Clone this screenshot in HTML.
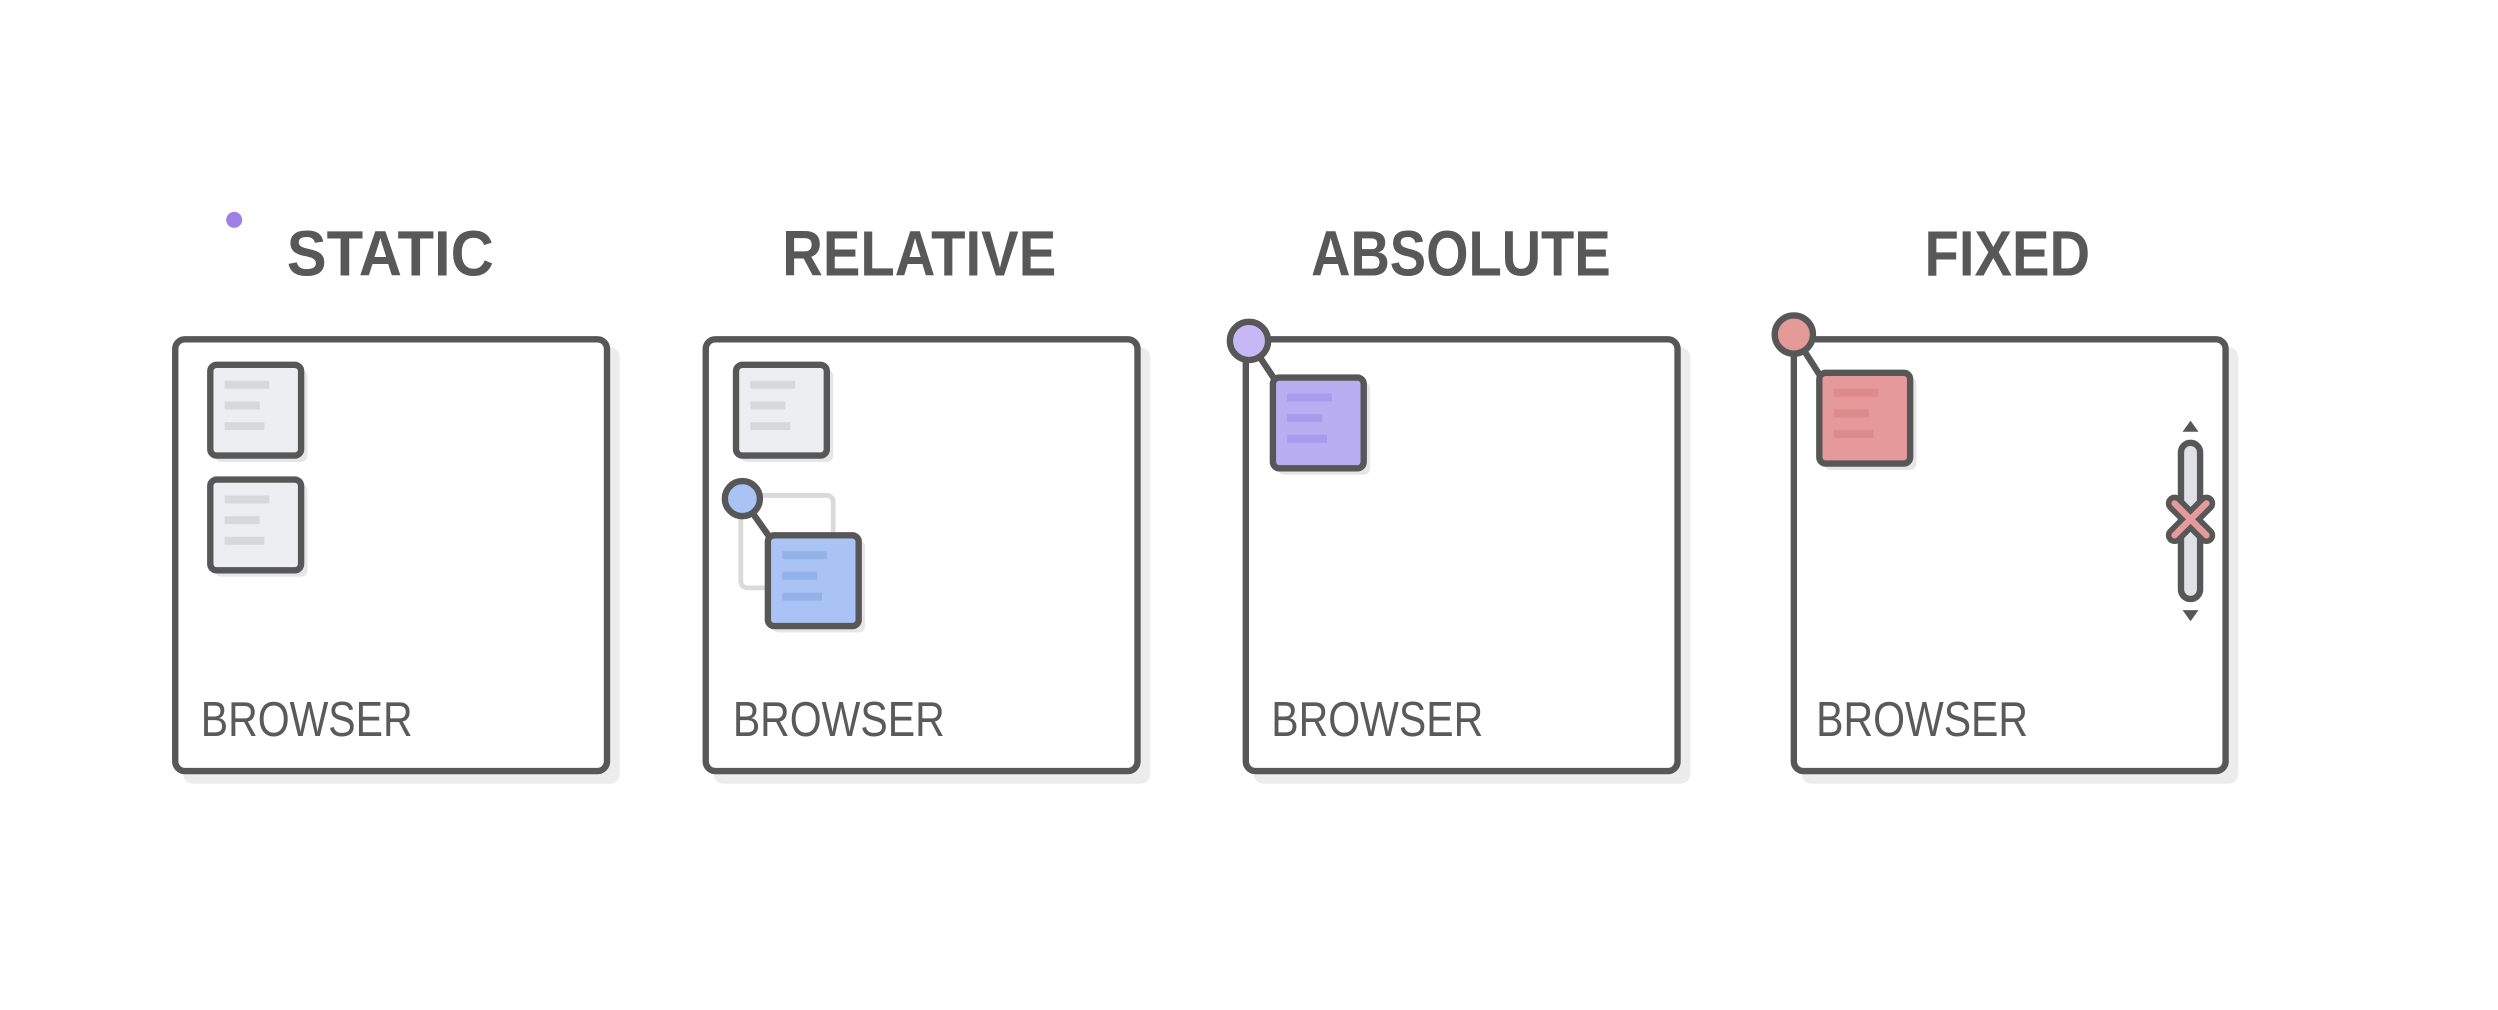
<!DOCTYPE html>
<html><head><meta charset="utf-8"><style>
html,body{margin:0;padding:0;background:#fff;}
svg{display:block;}
</style></head><body>
<svg width="2498" height="1010" viewBox="0 0 1568 634" preserveAspectRatio="none" xmlns="http://www.w3.org/2000/svg">
<defs>
<g id="lines"><rect x="9" y="10" width="28" height="5" fill="#d7d8db"/><rect x="9" y="23" width="22" height="5" fill="#d7d8db"/><rect x="9" y="36" width="25" height="5" fill="#d7d8db"/></g>
</defs>
<rect width="1568" height="634" fill="#fff"/>
<circle cx="147" cy="138" r="5" fill="#9d7fe6"/>
<g font-family="Liberation Sans, sans-serif" font-weight="bold" font-size="40" fill="#585858" text-anchor="middle">
<text x="245" y="173" textLength="130" lengthAdjust="spacingAndGlyphs">STATIC</text>
<text x="577" y="173" textLength="172" lengthAdjust="spacingAndGlyphs">RELATIVE</text>
<text x="917" y="173" textLength="188" lengthAdjust="spacingAndGlyphs">ABSOLUTE</text>
<text x="1260" y="173" textLength="104" lengthAdjust="spacingAndGlyphs">FIXED</text>
</g>
<!-- boxes -->
<g fill="#fff" stroke="#575757" stroke-width="4">
<rect x="115" y="218" width="274" height="274" rx="6" fill="#ececec" stroke="none"/>
<rect x="448" y="218" width="274" height="274" rx="6" fill="#ececec" stroke="none"/>
<rect x="787" y="218" width="274" height="274" rx="6" fill="#ececec" stroke="none"/>
<rect x="1131" y="218" width="274" height="274" rx="6" fill="#ececec" stroke="none"/>
<rect x="110" y="213" width="271" height="271" rx="6"/>
<rect x="443" y="213" width="271" height="271" rx="6"/>
<rect x="782" y="213" width="271" height="271" rx="6"/>
<rect x="1126" y="213" width="271" height="271" rx="6"/>
</g>
<g font-family="Liberation Sans, sans-serif" font-size="31" fill="#5a5a5a">
<text x="126" y="462" textLength="133" lengthAdjust="spacingAndGlyphs">BROWSER</text>
<text x="460" y="462" textLength="133" lengthAdjust="spacingAndGlyphs">BROWSER</text>
<text x="798" y="462" textLength="133" lengthAdjust="spacingAndGlyphs">BROWSER</text>
<text x="1140" y="462" textLength="133" lengthAdjust="spacingAndGlyphs">BROWSER</text>
</g>
<!-- static squares -->
<g stroke="#575757" stroke-width="4">
<rect x="135" y="232" width="58" height="58" rx="4" fill="#e6e6e6" stroke="none"/>
<rect x="132" y="229" width="57" height="57" rx="4" fill="#eceef1"/>
<rect x="135" y="304" width="58" height="58" rx="4" fill="#e6e6e6" stroke="none"/>
<rect x="132" y="301" width="57" height="57" rx="4" fill="#eceef1"/>
<rect x="465" y="232" width="58" height="58" rx="4" fill="#e6e6e6" stroke="none"/>
<rect x="462" y="229" width="57" height="57" rx="4" fill="#eceef1"/>
</g>
<use href="#lines" x="132" y="229"/>
<use href="#lines" x="132" y="301"/>
<use href="#lines" x="462" y="229"/>
<!-- relative -->
<rect x="465" y="311" width="58" height="58" rx="4" fill="none" stroke="#dadada" stroke-width="3"/>
<line x1="466" y1="313" x2="483" y2="337" stroke="#575757" stroke-width="4"/>
<rect x="485" y="339" width="58" height="58" rx="4" fill="#e6e6e6"/>
<rect x="482" y="336" width="57" height="57" rx="4" fill="#a9c4f4" stroke="#575757" stroke-width="4"/>
<g transform="translate(482,336)"><rect x="9" y="10" width="28" height="5" fill="#93b2e8"/><rect x="9" y="23" width="22" height="5" fill="#93b2e8"/><rect x="9" y="36" width="25" height="5" fill="#93b2e8"/></g>
<circle cx="466" cy="313" r="11" fill="#a9c4f4" stroke="#575757" stroke-width="4"/>
<!-- absolute -->
<line x1="784" y1="214" x2="800" y2="238" stroke="#575757" stroke-width="4"/>
<rect x="802" y="240" width="58" height="58" rx="4" fill="#e6e6e6"/>
<rect x="799" y="237" width="57" height="57" rx="4" fill="#b9aef2" stroke="#575757" stroke-width="4"/>
<g transform="translate(799,237)"><rect x="9" y="10" width="28" height="5" fill="#a89bec"/><rect x="9" y="23" width="22" height="5" fill="#a89bec"/><rect x="9" y="36" width="25" height="5" fill="#a89bec"/></g>
<circle cx="784" cy="214" r="12" fill="#c5b8f5" stroke="#575757" stroke-width="4"/>
<!-- fixed -->
<line x1="1126" y1="210" x2="1142" y2="235" stroke="#575757" stroke-width="4"/>
<rect x="1145" y="237" width="58" height="58" rx="4" fill="#e6e6e6"/>
<rect x="1142" y="234" width="57" height="57" rx="4" fill="#e5999b" stroke="#575757" stroke-width="4"/>
<g transform="translate(1142,234)"><rect x="9" y="10" width="28" height="5" fill="#dc8a8c"/><rect x="9" y="23" width="22" height="5" fill="#dc8a8c"/><rect x="9" y="36" width="25" height="5" fill="#dc8a8c"/></g>
<circle cx="1126" cy="210" r="12" fill="#e59a9a" stroke="#575757" stroke-width="4"/>
<!-- scrollbar -->
<rect x="1369" y="278" width="12" height="98" rx="6" fill="#dfe1e6" stroke="#575757" stroke-width="4"/>
<polygon points="1375,264 1370,271 1380,271" fill="#575757"/>
<polygon points="1375,390 1370,383 1380,383" fill="#575757"/>
<g stroke-linecap="round">
<line x1="1365" y1="316" x2="1385" y2="336" stroke="#575757" stroke-width="11"/>
<line x1="1385" y1="316" x2="1365" y2="336" stroke="#575757" stroke-width="11"/>
<line x1="1365" y1="316" x2="1385" y2="336" stroke="#e79a9a" stroke-width="4"/>
<line x1="1385" y1="316" x2="1365" y2="336" stroke="#e79a9a" stroke-width="4"/>
</g>
</svg>
</body></html>
